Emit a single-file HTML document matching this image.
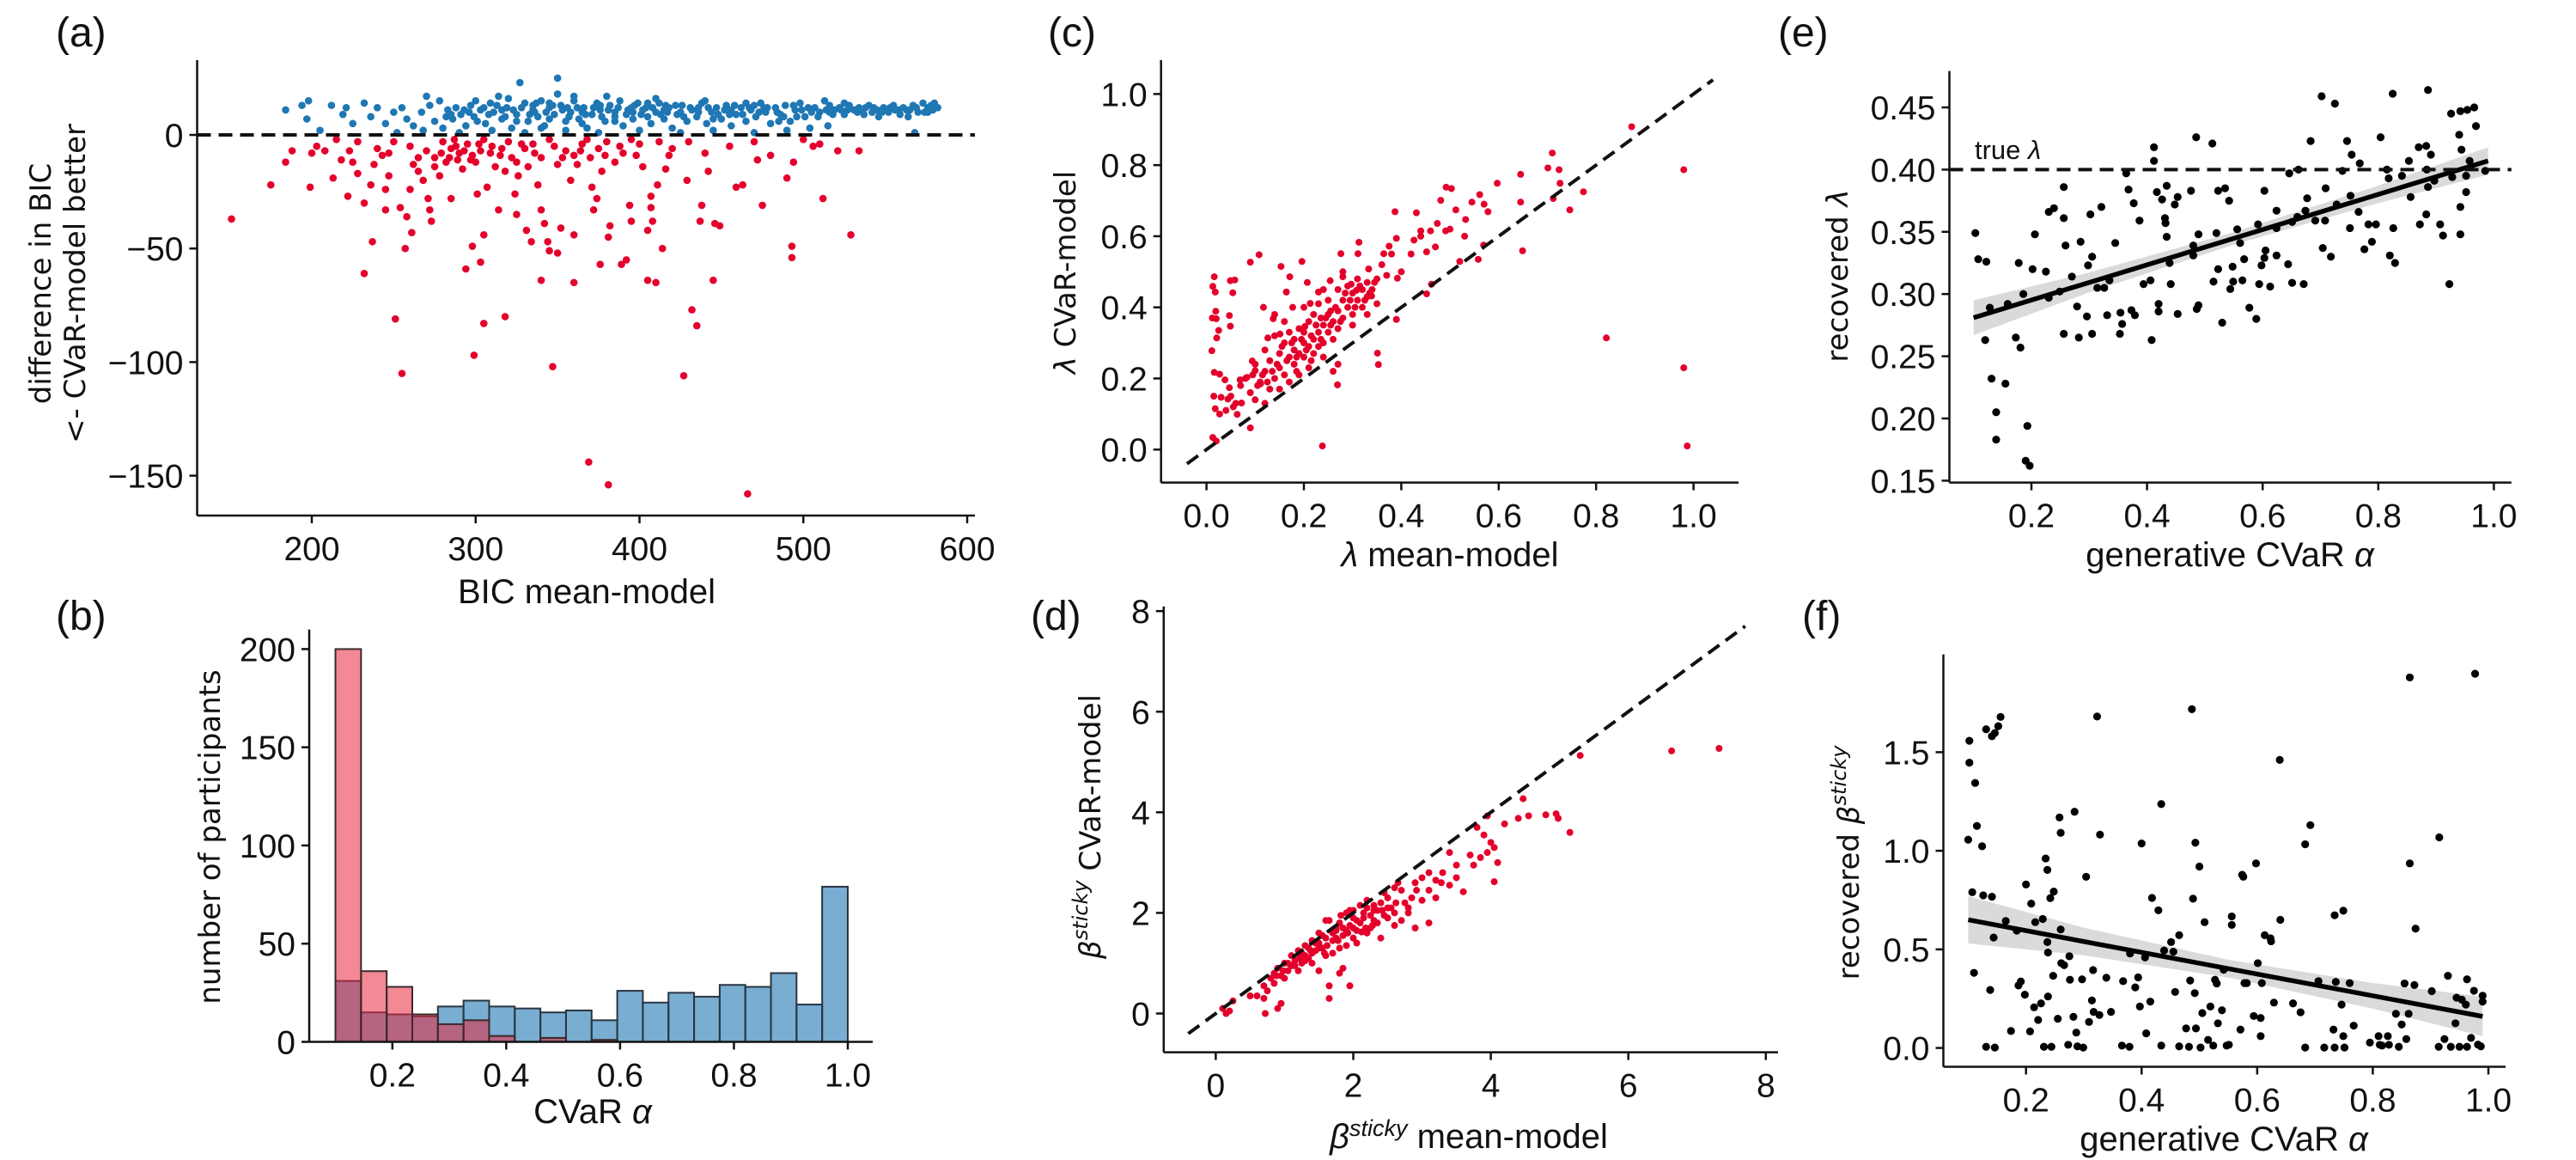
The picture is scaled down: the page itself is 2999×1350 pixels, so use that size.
<!DOCTYPE html>
<html><head><meta charset="utf-8"><style>
html,body{margin:0;padding:0;background:#fff;}
svg{display:block;}
.tk{font-family:"Liberation Sans Narrow","Liberation Sans",sans-serif;font-size:39px;fill:#111;}
.lab{font-family:"Liberation Sans Narrow","Liberation Sans",sans-serif;font-size:40px;fill:#111;}
.ylab{font-family:"DejaVu Sans","Liberation Sans",sans-serif;font-size:34px;fill:#111;}
.pl{font-family:"Liberation Sans Narrow","Liberation Sans",sans-serif;font-size:48px;fill:#111;}
</style></head><body>
<svg id="fig" xmlns="http://www.w3.org/2000/svg" width="2999" height="1350" viewBox="0 0 2999 1350">
<rect x="0" y="0" width="2999" height="1350" fill="#fff"/>
<text class="pl" x="65" y="54">(a)</text>
<text class="pl" x="65" y="733">(b)</text>
<text class="pl" x="1220" y="54">(c)</text>
<text class="pl" x="1200" y="733">(d)</text>
<text class="pl" x="2070" y="54">(e)</text>
<text class="pl" x="2098" y="733">(f)</text>

<text class="ylab" text-anchor="middle" transform="translate(48,330) rotate(-90)" dominant-baseline="central">difference in BIC</text>
<text class="ylab" text-anchor="middle" transform="translate(88,330) rotate(-90)" dominant-baseline="central">&lt;- CVaR-model better</text>
<text class="lab" x="683" y="702" text-anchor="middle">BIC mean-model</text>

<text class="ylab" text-anchor="middle" transform="translate(245,974) rotate(-90)" dominant-baseline="central">number of participants</text>
<text class="lab" x="690" y="1307" text-anchor="middle">CVaR <tspan font-style="italic">α</tspan></text>

<text class="ylab" text-anchor="middle" transform="translate(1241,317) rotate(-90)" dominant-baseline="central"><tspan font-style="italic">λ</tspan> CVaR-model</text>
<text class="lab" x="1688" y="659" text-anchor="middle"><tspan font-style="italic">λ</tspan> mean-model</text>

<text class="ylab" text-anchor="middle" transform="translate(1270,962) rotate(-90)" dominant-baseline="central"><tspan font-style="italic">β</tspan><tspan font-style="italic" font-size="24" dy="-12">sticky</tspan><tspan dy="12"> CVaR-model</tspan></text>
<text class="lab" x="1710" y="1336" text-anchor="middle"><tspan font-style="italic">β</tspan><tspan font-style="italic" font-size="27" dy="-14">sticky</tspan><tspan dy="14"> mean-model</tspan></text>

<text class="ylab" text-anchor="middle" transform="translate(2140,321) rotate(-90)" dominant-baseline="central">recovered <tspan font-style="italic">λ</tspan></text>
<text class="lab" x="2596" y="659" text-anchor="middle">generative CVaR <tspan font-style="italic">α</tspan></text>
<text class="lab" x="2299" y="185" style="font-size:31px">true <tspan font-style="italic">λ</tspan></text>

<text class="ylab" text-anchor="middle" transform="translate(2153,1004) rotate(-90)" dominant-baseline="central">recovered <tspan font-style="italic">β</tspan><tspan font-style="italic" font-size="24" dy="-12">sticky</tspan></text>
<text class="lab" x="2589" y="1339" text-anchor="middle">generative CVaR <tspan font-style="italic">α</tspan></text>
</svg>
<script>
// ---------- DATA ----------
const aTicksX=[200,300,400,500,600];
const aTicksY=[0,-50,-100,-150];
const aTickLabelsY=['0','−50','−100','−150'];
const aBlue=[[184,11],[194,13],[197,7],[198,15],[205,2],[212,13],[219,9],[221,12],[225,5],[232,14],[236,8],[240,12],[245,5],[250,10],[252,1],[255,12],[258,7],[262,4],[267,10],[270,17],[272,13],[275,6],[278,15],[280,3],[283,11],[286,7],[288,12],[291,9],[294,4],[297,13],[299,8],[303,11],[306,5],[309,14],[311,10],[314,17],[316,7],[319,12],[322,3],[325,9],[327,23],[330,14],[332,6],[335,11],[338,8],[340,15],[342,4],[345,12],[348,9],[350,25],[352,13],[355,6],[358,10],[360,15],[363,7],[366,12],[368,3],[371,9],[374,14],[376,11],[379,6],[382,13],[385,8],[388,15],[390,4],[393,11],[396,7],[399,14],[401,9],[404,12],[407,5],[410,10],[412,14],[415,7],[418,12],[420,3],[423,9],[426,13],[429,6],[432,11],[435,8],[438,14],[441,5],[444,10],[447,12],[450,7],[453,13],[456,4],[459,9],[462,12],[465,6],[468,11],[471,8],[474,14],[477,10],[480,5],[483,12],[486,9],[489,13],[492,6],[495,11],[498,14],[501,8],[504,3],[507,12],[510,10],[513,15],[516,13],[519,11],[522,12],[525,9],[528,13],[531,11],[534,12],[537,9],[540,13],[543,12],[546,8],[549,12],[552,10],[555,13],[558,11],[561,12],[564,8],[567,13],[570,10],[573,14],[576,12],[579,11],[582,12],[268,2],[290,1],[310,2],[330,1],[355,2],[375,1],[400,2],[425,1],[445,2],[470,1],[490,2],[515,4],[568,1],[340,3],[300,15],[360,17],[410,16],[380,17],[440,15],[320,16],[350,18],[395,12],[405,8],[365,5],[335,13],[345,7],[385,10],[415,11],[455,9],[470,13],[285,9],[305,12],[325,6],[345,14],[365,10],[385,6],[405,14],[425,10],[445,7],[465,14],[485,6],[505,10],[525,14],[545,11],[565,11],[580,14],[282,8],[293,11],[301,6],[308,9],[313,13],[318,8],[323,11],[328,12],[333,9],[337,14],[343,10],[347,13],[353,11],[357,8],[362,12],[367,9],[372,12],[377,8],[381,11],[387,12],[392,9],[397,13],[402,11],[408,12],[413,9],[417,10],[422,13],[427,8],[431,12],[436,10],[442,12],[448,9],[452,11],[458,13],[463,9],[467,12],[473,10],[478,12],[484,10],[488,8],[494,13],[499,11],[503,12],[509,8],[514,11],[518,9],[523,11],[527,11],[533,10],[538,12],[542,10],[548,10],[553,12],[559,9],[563,11],[569,12],[574,10],[578,13],[296,10],[316,11],[336,10],[356,12],[376,13],[396,10],[416,13],[436,12],[456,11],[476,12],[496,8],[516,10],[536,11],[556,11],[576,10]];
const aRed=[[151,-37],[175,-22],[184,-12],[188,-7],[199,-23],[200,-8],[203,-5],[208,-7],[213,-19],[218,-11],[222,-27],[223,-7],[225,-12],[228,-17],[232,-61],[232,-30],[237,-47],[236,-22],[238,-13],[243,-9],[245,-24],[245,-33],[247,-18],[251,-81],[254,-32],[255,-105],[257,-50],[258,-36],[261,-43],[260,-24],[265,-16],[271,-28],[272,-33],[273,-38],[268,-20],[275,-10],[278,-18],[285,-28],[289,-11],[294,-59],[298,-49],[299,-97],[303,-56],[305,-44],[305,-83],[301,-26],[307,-23],[314,-33],[318,-80],[324,-26],[325,-35],[326,-18],[331,-42],[334,-47],[338,-22],[340,-33],[340,-64],[342,-39],[344,-47],[345,-51],[347,-102],[350,-52],[352,-41],[358,-20],[360,-44],[360,-65],[369,-144],[381,-154],[466,-158],[371,-23],[372,-33],[374,-28],[376,-57],[381,-45],[382,-40],[389,-57],[392,-55],[394,-31],[395,-38],[402,-14],[405,-42],[405,-64],[407,-32],[407,-27],[408,-38],[411,-22],[414,-50],[410,-65],[416,-15],[427,-106],[432,-77],[435,-84],[429,-20],[437,-38],[438,-31],[442,-16],[445,-64],[446,-39],[449,-40],[459,-23],[463,-22],[475,-31],[472,-11],[490,-19],[493,-54],[493,-49],[494,-12],[512,-28],[529,-44],[506,-5],[521,-7],[534,-7],[280,-3],[285,-6],[290,-8],[295,-4],[310,-5],[315,-9],[320,-3],[330,-6],[335,-4],[345,-2],[355,-7],[365,-4],[370,-10],[375,-6],[380,-3],[390,-8],[395,-2],[260,-5],[265,-10],[270,-7],[250,-3],[240,-6],[300,-12],[305,-2],[325,-12],[340,-10],[350,-13],[360,-9],[385,-12],[400,-4],[420,-6],[430,-3],[440,-8],[455,-5],[470,-3],[480,-9],[500,-2],[510,-4],[275,-14],[282,-12],[292,-15],[298,-9],[312,-14],[318,-16],[228,-3],[215,-2],[247,-8],[262,-13],[287,-2],[303,-7],[332,-14],[362,-13],[377,-16],[279,-8],[284,-10],[288,-5],[293,-7],[297,-11],[302,-4],[309,-8],[316,-6],[322,-10],[328,-4],[336,-8],[348,-5],[353,-10],[364,-7],[368,-2],[379,-9],[388,-5],[398,-9],[412,-3],[418,-9]];

const bTicksX=[0.2,0.4,0.6,0.8,1.0];
const bTickLabelsX=['0.2','0.4','0.6','0.8','1.0'];
const bTicksY=[0,50,100,150,200];
const bBinStart=0.1, bBinWidth=0.045;
const bBlueCounts=[31,15,14,13,18,21,18,17,15,16,11,26,20,25,23,29,28,35,19,79];
const bRedCounts=[200,36,28,14,9,11,3,0,2,0,1,0,0,0,0,0,0,0,0,0];

const cTicks=[0,0.2,0.4,0.6,0.8,1.0];
const cTickLabels=['0.0','0.2','0.4','0.6','0.8','1.0'];
const cPoints=[[0.016,0.486],[0.013,0.459],[0.018,0.443],[0.019,0.389],[0.012,0.37],[0.02,0.368],[0.025,0.335],[0.021,0.314],[0.011,0.278],[0.016,0.217],[0.027,0.212],[0.015,0.15],[0.03,0.147],[0.018,0.115],[0.013,0.034],[0.02,0.024],[0.027,0.1],[0.049,0.475],[0.058,0.477],[0.054,0.441],[0.047,0.377],[0.049,0.347],[0.038,0.196],[0.047,0.174],[0.044,0.142],[0.055,0.12],[0.063,0.099],[0.072,0.131],[0.069,0.196],[0.09,0.527],[0.108,0.548],[0.09,0.061],[0.083,0.203],[0.094,0.249],[0.1,0.222],[0.111,0.185],[0.117,0.4],[0.126,0.314],[0.137,0.368],[0.151,0.325],[0.153,0.515],[0.164,0.443],[0.171,0.486],[0.177,0.4],[0.196,0.529],[0.207,0.47],[0.202,0.346],[0.213,0.411],[0.23,0.443],[0.254,0.475],[0.238,0.01],[0.269,0.182],[0.276,0.551],[0.28,0.486],[0.297,0.465],[0.308,0.448],[0.313,0.583],[0.311,0.551],[0.333,0.508],[0.339,0.432],[0.351,0.271],[0.353,0.239],[0.364,0.551],[0.375,0.572],[0.387,0.669],[0.39,0.594],[0.39,0.366],[0.392,0.482],[0.426,0.589],[0.431,0.666],[0.44,0.615],[0.452,0.556],[0.452,0.438],[0.46,0.615],[0.462,0.465],[0.474,0.636],[0.481,0.701],[0.492,0.738],[0.491,0.615],[0.503,0.734],[0.512,0.674],[0.52,0.529],[0.532,0.647],[0.545,0.696],[0.561,0.717],[0.558,0.535],[0.57,0.69],[0.578,0.669],[0.569,0.575],[0.597,0.749],[0.645,0.774],[0.645,0.696],[0.649,0.559],[0.701,0.792],[0.71,0.834],[0.724,0.787],[0.726,0.749],[0.712,0.706],[0.746,0.674],[0.774,0.725],[0.821,0.314],[0.873,0.908],[0.98,0.787],[0.98,0.23],[0.987,0.01],[0.12,0.22],[0.13,0.25],[0.14,0.2],[0.15,0.27],[0.15,0.23],[0.16,0.3],[0.16,0.21],[0.17,0.26],[0.17,0.33],[0.18,0.28],[0.18,0.31],[0.18,0.24],[0.19,0.27],[0.19,0.34],[0.2,0.3],[0.2,0.26],[0.2,0.33],[0.21,0.29],[0.21,0.36],[0.21,0.23],[0.22,0.31],[0.22,0.27],[0.22,0.38],[0.23,0.33],[0.23,0.29],[0.23,0.41],[0.24,0.35],[0.24,0.3],[0.24,0.26],[0.25,0.38],[0.25,0.33],[0.25,0.42],[0.26,0.36],[0.26,0.31],[0.27,0.39],[0.27,0.34],[0.27,0.45],[0.28,0.37],[0.28,0.42],[0.29,0.4],[0.29,0.46],[0.3,0.44],[0.3,0.38],[0.31,0.42],[0.31,0.48],[0.32,0.45],[0.32,0.4],[0.33,0.47],[0.33,0.43],[0.34,0.45],[0.35,0.41],[0.36,0.52],[0.37,0.49],[0.38,0.55],[0.14,0.32],[0.12,0.28],[0.1,0.24],[0.08,0.2],[0.09,0.16],[0.07,0.18],[0.11,0.19],[0.13,0.17],[0.06,0.13],[0.05,0.15],[0.04,0.11],[0.1,0.14],[0.12,0.13],[0.26,0.22],[0.27,0.24],[0.3,0.35],[0.19,0.21],[0.17,0.19],[0.15,0.17],[0.2,0.4],[0.24,0.45],[0.28,0.5],[0.16,0.36],[0.14,0.38],[0.33,0.38],[0.35,0.48],[0.4,0.5],[0.42,0.55],[0.44,0.6],[0.47,0.57],[0.5,0.62],[0.53,0.6],[0.155,0.29],[0.165,0.25],[0.175,0.3],[0.185,0.26],[0.195,0.31],[0.205,0.28],[0.215,0.32],[0.225,0.35],[0.235,0.31],[0.245,0.37],[0.255,0.35],[0.265,0.4],[0.275,0.36],[0.285,0.44],[0.295,0.42],[0.305,0.4],[0.315,0.46],[0.325,0.42],[0.335,0.44],[0.345,0.47],[0.135,0.22],[0.145,0.24],[0.125,0.19],[0.115,0.21],[0.105,0.18],[0.095,0.21],[0.185,0.22],[0.215,0.25],[0.235,0.37],[0.255,0.39]];

const dTicks=[0,2,4,6,8];
const dPoints=[[6.63,5.22],[7.32,5.27],[5.3,5.13],[4.47,4.27],[4.8,3.95],[4.95,3.97],[4.98,3.88],[4.4,3.88],[4.55,3.93],[5.15,3.6],[4.2,3.77],[3.95,3.93],[3.8,3.7],[3.9,3.55],[4.0,3.4],[4.05,3.3],[4.1,3.0],[4.05,2.62],[3.95,3.2],[3.85,3.1],[3.7,3.15],[3.75,2.95],[3.6,2.42],[3.5,2.95],[3.4,3.2],[3.3,2.8],[3.2,2.65],[3.1,2.8],[3.0,2.7],[3.1,2.45],[3.0,2.25],[2.9,2.6],[2.85,2.3],[2.8,2.1],[2.7,2.45],[2.75,2.2],[2.6,2.5],[2.55,2.1],[2.5,2.3],[2.45,1.95],[2.4,2.2],[2.35,1.8],[2.3,2.05],[2.25,1.7],[2.2,2.1],[2.15,1.9],[2.1,2.15],[2.05,1.65],[2.0,1.9],[1.95,1.75],[1.9,2.0],[1.85,1.55],[1.8,1.8],[1.75,1.65],[1.7,1.45],[1.65,1.85],[1.6,1.5],[1.55,1.3],[1.5,1.6],[1.45,1.25],[1.4,1.45],[1.35,1.1],[1.3,1.35],[1.25,1.0],[1.2,1.25],[1.15,0.95],[1.1,1.15],[1.05,0.85],[1.0,1.0],[0.95,0.75],[0.9,0.9],[0.85,0.6],[0.8,0.7],[0.75,0.45],[0.7,0.55],[0.6,0.35],[0.5,0.35],[0.25,0.25],[0.2,0.05],[0.15,0.0],[0.1,0.1],[0.72,0.0],[0.9,0.1],[0.95,0.2],[1.65,0.3],[1.65,0.55],[1.8,0.8],[1.85,0.9],[1.95,0.55],[2.9,1.7],[3.1,1.8],[1.5,0.85],[0.7,0.3],[2.05,1.4],[2.2,1.6],[2.4,1.5],[2.6,1.75],[2.7,1.85],[1.9,1.35],[1.7,1.2],[1.4,1.0],[1.2,0.85],[1.0,0.7],[2.5,1.9],[2.3,1.85],[2.0,1.5],[1.8,1.3],[1.6,1.15],[2.8,2.0],[3.2,2.3],[3.4,2.55],[2.6,2.0],[2.45,2.4],[1.55,1.55],[1.3,1.15],[1.1,0.95],[1.95,2.05],[2.1,1.8],[2.25,1.95],[1.75,1.7],[1.45,1.4],[1.25,1.2],[0.85,0.8],[1.6,1.85],[2.2,2.25],[2.65,2.6],[1.35,1.3],[1.15,1.05],[1.75,1.5],[2.0,1.7],[2.15,2.0],[2.35,2.05],[1.9,1.65],[1.5,1.4],[1.4,1.2],[1.3,1.05],[1.5,1.3],[1.7,1.6],[1.85,1.7],[2.05,1.85],[2.3,2.15],[2.5,2.1],[1.62,1.35],[1.78,1.45],[1.92,1.6],[2.12,1.62],[2.28,1.75],[1.58,1.2],[1.38,1.25],[1.22,1.1],[1.05,1.0],[0.98,0.85],[0.88,0.75],[1.82,1.95],[2.0,2.05],[2.18,1.7],[2.42,2.05],[2.62,2.2],[2.92,2.45],[3.28,2.6],[3.5,2.7]];

const eTicksX=[0.2,0.4,0.6,0.8,1.0];
const eTickLabelsX=['0.2','0.4','0.6','0.8','1.0'];
const eTicksY=[0.15,0.2,0.25,0.3,0.35,0.4,0.45];
const eTickLabelsY=['0.15','0.20','0.25','0.30','0.35','0.40','0.45'];
const eTrueLambda=0.40;
const eRegX=[0.1,0.99];
const eRegY=[0.281,0.407];
const eBandX=[0.1,0.3,0.55,0.8,0.99];
const eBandHalf=[0.014,0.008,0.005,0.007,0.011];
const ePoints=[[0.103,0.349],[0.108,0.328],[0.122,0.326],[0.12,0.263],[0.131,0.232],[0.139,0.205],[0.139,0.183],[0.155,0.228],[0.128,0.289],[0.159,0.292],[0.173,0.265],[0.181,0.257],[0.178,0.325],[0.186,0.3],[0.193,0.194],[0.19,0.166],[0.197,0.162],[0.202,0.32],[0.206,0.348],[0.225,0.318],[0.23,0.366],[0.239,0.369],[0.23,0.297],[0.249,0.302],[0.256,0.386],[0.256,0.361],[0.259,0.339],[0.256,0.268],[0.27,0.314],[0.279,0.29],[0.282,0.265],[0.285,0.342],[0.298,0.323],[0.302,0.364],[0.305,0.33],[0.305,0.268],[0.296,0.282],[0.314,0.305],[0.321,0.37],[0.326,0.305],[0.331,0.283],[0.335,0.311],[0.345,0.341],[0.354,0.285],[0.353,0.268],[0.357,0.276],[0.364,0.397],[0.368,0.384],[0.373,0.287],[0.377,0.373],[0.379,0.283],[0.387,0.359],[0.394,0.308],[0.406,0.311],[0.408,0.263],[0.412,0.418],[0.412,0.407],[0.417,0.382],[0.42,0.292],[0.42,0.286],[0.426,0.376],[0.431,0.361],[0.432,0.357],[0.434,0.387],[0.434,0.346],[0.439,0.325],[0.441,0.308],[0.448,0.372],[0.453,0.378],[0.453,0.284],[0.476,0.383],[0.48,0.339],[0.48,0.331],[0.485,0.426],[0.486,0.288],[0.489,0.348],[0.489,0.291],[0.513,0.421],[0.515,0.31],[0.52,0.349],[0.523,0.32],[0.523,0.383],[0.53,0.277],[0.535,0.385],[0.542,0.375],[0.544,0.304],[0.548,0.322],[0.549,0.31],[0.556,0.352],[0.561,0.341],[0.565,0.311],[0.568,0.328],[0.577,0.289],[0.589,0.28],[0.594,0.308],[0.592,0.356],[0.598,0.323],[0.603,0.383],[0.605,0.335],[0.603,0.329],[0.613,0.306],[0.624,0.367],[0.624,0.353],[0.624,0.331],[0.644,0.324],[0.646,0.397],[0.651,0.309],[0.651,0.358],[0.662,0.4],[0.66,0.362],[0.671,0.308],[0.674,0.367],[0.677,0.377],[0.683,0.423],[0.691,0.359],[0.702,0.459],[0.704,0.337],[0.708,0.359],[0.709,0.385],[0.718,0.33],[0.725,0.453],[0.728,0.372],[0.738,0.399],[0.746,0.423],[0.751,0.353],[0.754,0.412],[0.752,0.379],[0.766,0.366],[0.768,0.405],[0.776,0.336],[0.783,0.356],[0.789,0.342],[0.796,0.356],[0.804,0.426],[0.815,0.4],[0.818,0.393],[0.82,0.331],[0.825,0.461],[0.826,0.353],[0.829,0.325],[0.841,0.395],[0.853,0.407],[0.856,0.378],[0.87,0.418],[0.872,0.356],[0.883,0.419],[0.886,0.464],[0.884,0.4],[0.886,0.386],[0.883,0.364],[0.891,0.412],[0.897,0.391],[0.907,0.356],[0.912,0.347],[0.923,0.308],[0.926,0.445],[0.928,0.394],[0.94,0.428],[0.942,0.37],[0.942,0.348],[0.944,0.416],[0.942,0.447],[0.952,0.395],[0.954,0.448],[0.952,0.382],[0.958,0.407],[0.966,0.45],[0.969,0.435],[0.985,0.399]];

const fTicksX=[0.2,0.4,0.6,0.8,1.0];
const fTickLabelsX=['0.2','0.4','0.6','0.8','1.0'];
const fTicksY=[0,0.5,1.0,1.5];
const fTickLabelsY=['0.0','0.5','1.0','1.5'];
const fRegX=[0.1,0.99];
const fRegY=[0.65,0.16];
const fBandX=[0.1,0.3,0.55,0.8,0.99];
const fBandHalf=[0.12,0.07,0.045,0.065,0.1];
const fPoints=[[0.102,1.558],[0.102,1.447],[0.1,1.056],[0.107,0.79],[0.11,0.381],[0.112,1.344],[0.115,1.126],[0.124,1.023],[0.126,0.774],[0.131,1.616],[0.131,0.006],[0.138,0.294],[0.141,0.767],[0.141,1.581],[0.144,0.56],[0.146,0.002],[0.146,1.597],[0.152,1.632],[0.156,1.679],[0.165,0.644],[0.174,0.086],[0.184,0.595],[0.187,0.317],[0.191,0.337],[0.198,0.27],[0.2,0.829],[0.207,0.084],[0.209,0.732],[0.214,0.206],[0.216,0.638],[0.221,0.142],[0.226,0.226],[0.229,0.654],[0.231,0.006],[0.234,0.961],[0.237,0.903],[0.237,0.537],[0.238,0.261],[0.238,0.484],[0.242,0.76],[0.244,0.006],[0.248,0.793],[0.247,0.366],[0.255,0.148],[0.258,1.169],[0.26,1.091],[0.26,0.601],[0.261,0.43],[0.266,0.42],[0.273,0.016],[0.275,0.465],[0.276,0.346],[0.282,0.158],[0.284,1.198],[0.287,0.078],[0.289,0.008],[0.297,0.348],[0.299,0.002],[0.304,0.868],[0.309,0.132],[0.314,0.241],[0.316,0.395],[0.317,0.183],[0.323,1.681],[0.327,0.167],[0.328,1.082],[0.339,0.356],[0.347,0.183],[0.366,0.012],[0.368,0.339],[0.379,0.006],[0.38,0.479],[0.389,0.307],[0.394,0.358],[0.397,0.21],[0.4,1.037],[0.406,0.459],[0.408,0.074],[0.415,0.235],[0.418,0.761],[0.429,0.698],[0.434,1.237],[0.434,0.012],[0.439,0.494],[0.451,0.537],[0.455,0.488],[0.458,0.284],[0.465,0.572],[0.465,0.008],[0.477,0.099],[0.482,0.006],[0.484,0.342],[0.487,1.718],[0.489,0.757],[0.492,0.278],[0.493,1.041],[0.494,0.099],[0.5,0.92],[0.502,0.002],[0.505,0.177],[0.509,0.638],[0.515,0.041],[0.519,0.21],[0.524,0.012],[0.527,0.346],[0.53,0.327],[0.532,0.125],[0.539,0.191],[0.542,0.397],[0.547,0.012],[0.551,0.016],[0.556,0.624],[0.556,0.667],[0.571,0.093],[0.574,0.878],[0.576,0.868],[0.578,0.329],[0.582,0.329],[0.594,0.162],[0.598,0.936],[0.601,0.43],[0.606,0.152],[0.606,0.06],[0.608,0.329],[0.613,0.572],[0.623,0.556],[0.624,0.541],[0.629,0.23],[0.639,1.461],[0.64,0.65],[0.662,0.226],[0.675,0.181],[0.683,1.033],[0.683,0.002],[0.692,1.13],[0.706,0.339],[0.716,0.002],[0.732,0.093],[0.734,0.673],[0.734,0.002],[0.736,0.335],[0.746,0.22],[0.749,0.696],[0.749,0.06],[0.751,0.002],[0.76,0.329],[0.767,0.113],[0.795,0.027],[0.81,0.06],[0.812,0.016],[0.816,0.012],[0.826,0.06],[0.828,0.016],[0.84,0.173],[0.845,0.006],[0.85,0.119],[0.855,0.327],[0.858,0.045],[0.862,0.173],[0.864,1.879],[0.864,0.936],[0.872,0.319],[0.874,0.605],[0.902,0.288],[0.915,1.068],[0.914,0.006],[0.924,0.045],[0.93,0.366],[0.935,0.006],[0.943,0.125],[0.945,0.255],[0.95,0.006],[0.954,0.245],[0.961,0.22],[0.963,0.348],[0.963,0.006],[0.97,0.051],[0.975,0.29],[0.977,1.898],[0.982,0.017],[0.987,0.008],[0.99,0.265],[0.99,0.235]];

// ---------- DRAWING ----------
const NS='http://www.w3.org/2000/svg';
const svg=document.getElementById('fig');
const RED='#e4002b', BLUE='#1f77b4';
function S(d0,p0,d1,p1){return v=>p0+(v-d0)*(p1-p0)/(d1-d0);}
function mk(tag,attrs){const e=document.createElementNS(NS,tag);for(const k in attrs)e.setAttribute(k,attrs[k]);return e;}

function frame(id,f,xS,yS,xt,xl,yt,yl){
  const g=mk('g',{});
  
  
  svg.appendChild(g);
  const ya=mk('line',{x1:f.l,y1:f.t,x2:f.l,y2:f.b,stroke:'#111','stroke-width':2.5});
  
  
  g.appendChild(ya);
  const xa=mk('line',{x1:f.l,y1:f.b,x2:f.r,y2:f.b,stroke:'#111','stroke-width':2.5});
  
  
  g.appendChild(xa);
  xt.forEach((v,i)=>{
    const x=xS(v);
    const t=mk('line',{x1:x,y1:f.b,x2:x,y2:f.b+9,stroke:'#111','stroke-width':2.5});
    
    
    g.appendChild(t);
    const tx=mk('text',{x:x,y:f.b+52,'text-anchor':'middle',class:'tk'});
    tx.textContent=xl[i];
    
    
    g.appendChild(tx);
  });
  yt.forEach((v,i)=>{
    const y=yS(v);
    const t=mk('line',{x1:f.l-9,y1:y,x2:f.l,y2:y,stroke:'#111','stroke-width':2.5});
    
    
    g.appendChild(t);
    const tx=mk('text',{x:f.l-16,y:y+14,'text-anchor':'end',class:'tk'});
    tx.textContent=yl[i];
    
    
    g.appendChild(tx);
  });
  return g;
}
function scatter(id,pts,xS,yS,r,col){
  const g=mk('g',{});
  
  
  svg.appendChild(g);
  pts.forEach(p=>{
    const c=mk('circle',{cx:xS(p[0]),cy:yS(p[1]),r:r,fill:col});
    
    
    g.appendChild(c);
  });
}
function dashed(id,x1,y1,x2,y2){
  const l=mk('line',{x1:x1,y1:y1,x2:x2,y2:y2,stroke:'#111','stroke-width':4,'stroke-dasharray':'16 9'});
  
  
  svg.appendChild(l);
}
function regression(id,xS,yS,rx,ry,bx,bh){
  const lin=v=>ry[0]+(v-rx[0])*(ry[1]-ry[0])/(rx[1]-rx[0]);
  const up=bx.map((v,i)=>xS(v)+','+yS(lin(v)+bh[i]));
  const dn=bx.map((v,i)=>xS(v)+','+yS(lin(v)-bh[i])).reverse();
  const band=mk('polygon',{points:up.concat(dn).join(' '),fill:'#d3d3d3','fill-opacity':0.85});
  
  
  svg.appendChild(band);
  const l=mk('line',{x1:xS(rx[0]),y1:yS(ry[0]),x2:xS(rx[1]),y2:yS(ry[1]),stroke:'#000','stroke-width':5.5});
  
  
  svg.appendChild(l);
}

// Panel a
{
  const xS=S(200,363,600,1126), yS=S(0,157,-150,553.6);
  const f={l:229.5,t:70,b:600,r:1135};
  frame('a',f,xS,yS,aTicksX,aTicksX.map(String),aTicksY,aTickLabelsY);
  scatter('a-cvar-better',aRed,xS,yS,4.3,RED);
  scatter('a-mean-better',aBlue,xS,yS,4.3,BLUE);
  dashed('zero-line-a',f.l,yS(0),f.r,yS(0));
}
// Panel b
{
  const xS=S(0.2,456.8,1.0,987), yS=S(0,1212.5,200,755.4);
  const f={l:360,t:732.6,b:1212.5,r:1016};
  const g=mk('g',{});
  
  
  svg.appendChild(g);
  bBlueCounts.forEach((c,i)=>{
    const x0=xS(bBinStart+i*bBinWidth), x1=xS(bBinStart+(i+1)*bBinWidth);
    const rc=mk('rect',{x:x0,y:yS(c),width:x1-x0,height:yS(0)-yS(c),fill:'#1f77b4','fill-opacity':0.6,stroke:'#2a3540','stroke-width':2});
    
    
    g.appendChild(rc);
  });
  bRedCounts.forEach((c,i)=>{
    if(c<=0) return;
    const x0=xS(bBinStart+i*bBinWidth), x1=xS(bBinStart+(i+1)*bBinWidth);
    const rc=mk('rect',{x:x0,y:yS(c),width:x1-x0,height:yS(0)-yS(c),fill:'#e8283e','fill-opacity':0.55,stroke:'#3a2a2a','stroke-width':2});
    
    
    g.appendChild(rc);
  });
  frame('b',f,xS,yS,bTicksX,bTickLabelsX,bTicksY,bTicksY.map(String));
}
// Panel c
{
  const xS=S(0,1404.6,1,1971.6), yS=S(0,523.2,1,109.4);
  const f={l:1351.7,t:70,b:561.6,r:2024};
  frame('c',f,xS,yS,cTicks,cTickLabels,cTicks,cTickLabels);
  scatter('c',cPoints,xS,yS,4,RED);
  dashed('identity-line-c',xS(-0.04),yS(-0.04),xS(1.04),yS(1.04));
}
// Panel d
{
  const xS=S(0,1415.4,2,1575.5), yS=S(0,1179.5,8,711.2);
  const f={l:1354.8,t:705.8,b:1224.6,r:2070};
  frame('d',f,xS,yS,dTicks,dTicks.map(String),dTicks,dTicks.map(String));
  scatter('d',dPoints,xS,yS,4,RED);
  dashed('identity-line-d',xS(-0.4),yS(-0.4),xS(7.7),yS(7.7));
}
// Panel e
{
  const xS=S(0.2,2365,1,2903.4), yS=S(0.45,125,0.15,559.4);
  const f={l:2269.5,t:82.6,b:561.6,r:2923.8};
  frame('e',f,xS,yS,eTicksX,eTickLabelsX,eTicksY,eTickLabelsY);
  regression('e',xS,yS,eRegX,eRegY,eBandX,eBandHalf);
  scatter('e',ePoints,xS,yS,4.6,'#000');
  dashed('true-lambda-line',f.l,yS(eTrueLambda),f.r,yS(eTrueLambda));
}
// Panel f
{
  const xS=S(0.2,2358.7,1,2897), yS=S(0,1219.6,1.5,875.4);
  const f={l:2262.5,t:761.6,b:1241.5,r:2917};
  frame('f',f,xS,yS,fTicksX,fTickLabelsX,fTicksY,fTickLabelsY);
  regression('f',xS,yS,fRegX,fRegY,fBandX,fBandHalf);
  scatter('f',fPoints,xS,yS,4.6,'#000');
}
</script>
</body></html>
